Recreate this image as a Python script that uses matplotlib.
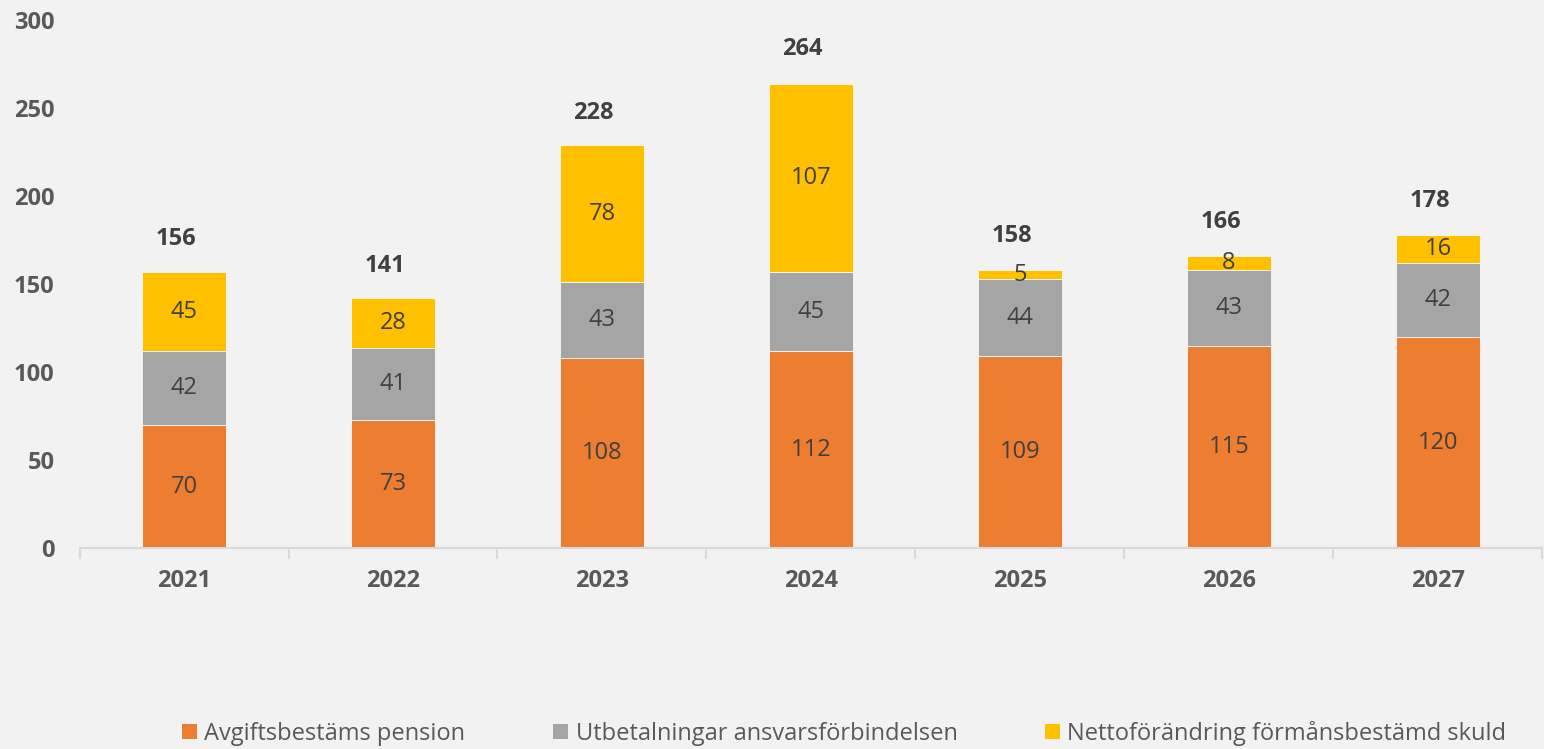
import numpy as np
from matplotlib import pyplot as plt
from matplotlib.patches import Patch

years = ["2021", "2022", "2023", "2024", "2025", "2026", "2027"]
avgift = [70, 73, 108, 112, 109, 115, 120]
utbet = [42, 41, 43, 45, 44, 43, 42]
netto = [45, 28, 78, 107, 5, 8, 16]
totals = [156, 141, 228, 264, 158, 166, 178]
series_names = ["Avgiftsbestäms pension",
                "Utbetalningar ansvarsförbindelsen",
                "Nettoförändring förmånsbestämd skuld"]
colors = ["#ED7D31", "#A5A5A5", "#FFC000"]

plt.rcParams['font.family'] = ['Open Sans', 'DejaVu Sans']
bg = "#F2F2F2"

fig = plt.figure(figsize=(15.44, 7.49), dpi=100, facecolor=bg)
ax = fig.add_axes([0.0515, 0.268, 0.9475, 0.705], facecolor=bg)

x = np.arange(len(years))
bottom = np.zeros(len(years))
for vals, col in zip([avgift, utbet, netto], colors):
    bars = ax.bar(x, vals, width=0.4, bottom=bottom, color=col,
                  edgecolor="#F8F8F8", linewidth=0.6)
    ax.bar_label(bars, labels=[str(v) for v in vals], label_type='center',
                 fontsize=17, color="#404040")
    bottom += np.array(vals)

for xi, t in zip(x, totals):
    ax.annotate(str(t), (xi, t), xytext=(-6, 16), textcoords='offset points',
                ha='center', va='bottom', fontsize=17, fontweight='bold',
                color="#404040")

ax.set_xlim(-0.5, len(years) - 0.5)
ax.set_ylim(0, 300)
ax.set_yticks(range(0, 301, 50))
ax.set_xticks(x)
ax.set_xticklabels(years)
ax.set_xticks(np.arange(-0.5, len(years), 1.0), minor=True)

for s in ["top", "right", "left"]:
    ax.spines[s].set_visible(False)
ax.spines["bottom"].set_color("#D9D9D9")
ax.spines["bottom"].set_linewidth(1.5)

ax.tick_params(axis='y', length=0, pad=18, labelsize=17, labelcolor="#595959")
ax.tick_params(axis='x', which='major', length=0, pad=15, labelsize=17,
               labelcolor="#595959")
ax.tick_params(axis='x', which='minor', length=8, width=1.5, color="#D9D9D9")
for lab in ax.get_xticklabels() + ax.get_yticklabels():
    lab.set_fontweight('bold')

handles = [Patch(facecolor=c, edgecolor='none') for c in colors]
leg = fig.legend(handles, series_names, loc='center left',
                 bbox_to_anchor=(0.104, 0.021), ncol=3, frameon=False,
                 fontsize=17, handlelength=0.66, handleheight=0.66,
                 handletextpad=0.3, columnspacing=3.7)
for t in leg.get_texts():
    t.set_color("#595959")

fig.savefig("out.png", dpi=100, facecolor=bg)
